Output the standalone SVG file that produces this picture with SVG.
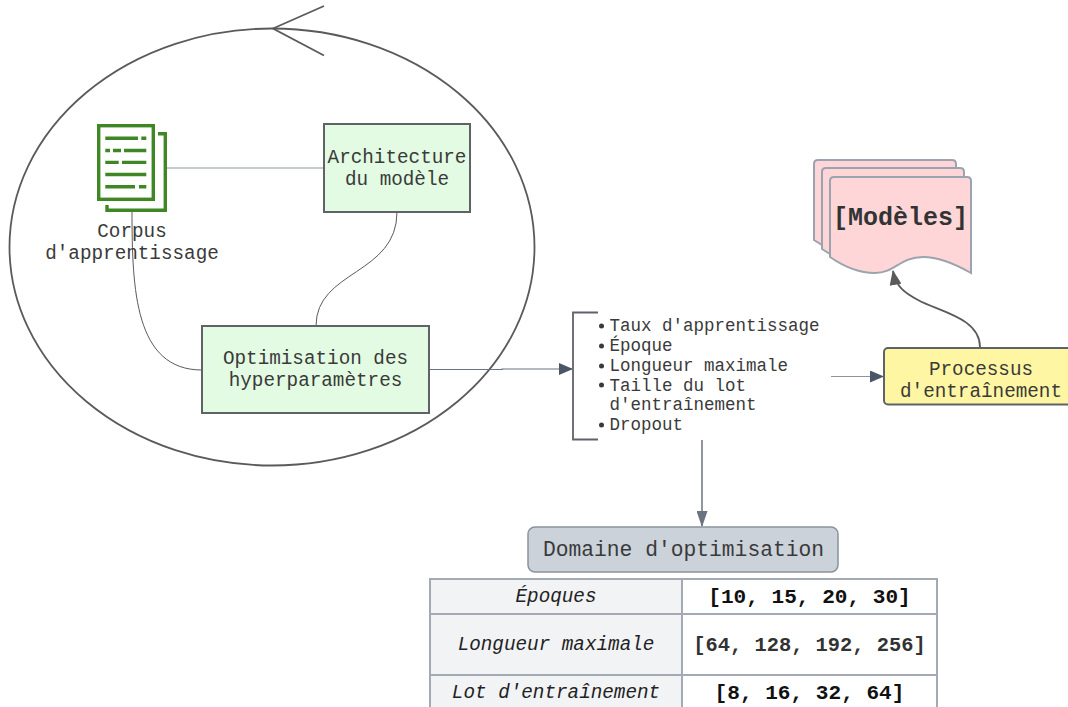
<svg xmlns="http://www.w3.org/2000/svg" width="1068" height="707" viewBox="0 0 1068 707">
<defs>
<style>
text{font-family:"Liberation Mono",monospace;fill:#3a3a3a;text-anchor:middle}
.c{fill:none;stroke:#8e939e;stroke-width:1.2}
.d{fill:none;stroke:#5a5a5a;stroke-width:1.8}
.t{font-size:19.300px}
.cell{fill:#fff;stroke:#a3aab5;stroke-width:2}
.h{fill:#f1f3f5;stroke:#a3aab5;stroke-width:2}
.i{font-style:italic;font-size:19.300px;fill:#222}
.b{font-weight:bold;font-size:21.100px;fill:#111}
.l{font-size:17.500px;text-anchor:start}
.g{fill:none;stroke:#3f8624;stroke-width:3.400}
.doc{fill:#ffd6d8;stroke:#9aa3ae;stroke-width:2}
</style>
<marker id="a" viewBox="0 0 14 12" refX="13" refY="6" markerWidth="14" markerHeight="12" markerUnits="userSpaceOnUse" orient="auto"><path d="M0 0L14 6L0 12Z" fill="#4a5568"/></marker>
<marker id="b" viewBox="0 0 15 12" refX="14" refY="6" markerWidth="15" markerHeight="12" markerUnits="userSpaceOnUse" orient="auto"><path d="M0 0L15 6L0 12Z" fill="#5a5a5a"/></marker>
<marker id="e" viewBox="0 0 16 11" refX="15" refY="5.500" markerWidth="16" markerHeight="11" markerUnits="userSpaceOnUse" orient="auto"><path d="M0 0L16 5.500L0 11Z" fill="#6b7280"/></marker>
</defs>
<rect width="1068" height="707" fill="#fff"/>
<g id="cycle">
<ellipse cx="272" cy="247" rx="262.500" ry="218.500" class="d"/>
<path d="M324 6L273 28.500L324 55.500" class="d"/>
</g>
<g id="connectors">
<path d="M167 168H324" class="c"/>
<path d="M397 212C397 275 316 270 316 326" class="c" style="stroke:#5a5a5a;stroke-width:1"/>
<path d="M132 211C132 290 135 370 202 370" class="c" style="stroke:#5a5a5a;stroke-width:1"/>
<path d="M430 369.500H502V369H572" class="c" style="stroke:#6b7280" marker-end="url(#a)"/>
<path d="M831 376.500H883" class="c" marker-end="url(#a)"/>
<path d="M980 347C980 318 940 312 918 300C905 293 896 287 893 271" class="d" marker-end="url(#b)"/>
<path d="M702 440V526" fill="none" stroke="#6b7280" stroke-width="1.500" marker-end="url(#e)"/>
</g>
<g id="corpus">
<rect x="98.700" y="125.700" width="54.600" height="73.600" fill="#fff" class="g"/>
<path d="M158 133.700H165.300V210.300H107V205" class="g"/>
<path d="M105.300 138.300H138M141.300 138.300H146.300M105.300 150.500H110M113 150.500H121M124 150.500H146.300M105.300 162.400H118.700M122 162.400H146.300M105.300 174.500H146.300M105.300 186.700H135M139 186.700H146.300" class="g"/>
<text x="132" y="236.500" class="t">Corpus</text>
<text x="132" y="258.500" class="t">d'apprentissage</text>
</g>
<g id="architecture">
<rect x="324" y="124" width="146" height="88" fill="#e2fbe2" stroke="#5f6368" stroke-width="2"/>
<text x="397" y="162.500" class="t">Architecture</text>
<text x="397" y="184.500" class="t">du modèle</text>
</g>
<g id="optimisation">
<rect x="202" y="326" width="227" height="87" fill="#e2fbe2" stroke="#5f6368" stroke-width="2"/>
<text x="315.500" y="363.500" class="t">Optimisation des</text>
<text x="315.500" y="385.500" class="t">hyperparamètres</text>
</g>
<g id="hyperparams">
<path d="M598 312.500H573V439.500H598" fill="none" stroke="#5f6368" stroke-width="1.800"/>
<g fill="#3a3a3a"><circle cx="601.500" cy="326" r="2.500"/><circle cx="601.500" cy="346" r="2.500"/><circle cx="601.500" cy="366" r="2.500"/><circle cx="601.500" cy="385" r="2.500"/><circle cx="601.500" cy="425" r="2.500"/></g>
<text x="609.500" y="331" class="l">Taux d'apprentissage</text>
<text x="609.500" y="351" class="l">Époque</text>
<text x="609.500" y="371" class="l">Longueur maximale</text>
<text x="609.500" y="391" class="l">Taille du lot</text>
<text x="609.500" y="410" class="l">d'entraînement</text>
<text x="609.500" y="430" class="l">Dropout</text>
</g>
<g id="modeles">
<path d="M814 240V164Q814 160 818 160H952Q956 160 956 164V200H822V245Z" class="doc"/>
<path d="M822 249V172Q822 168 826 168H960Q964 168 964 172V205H830V254Z" class="doc"/>
<path d="M830 257V181Q830 177 834 177H967Q971 177 971 181V273C950 261 935 257 923 257C900 257 895 273 875 273C857 273 843 266 830 257Z" class="doc"/>
<text x="900.500" y="225" font-size="25" font-weight="bold" style="fill:#333">[Modèles]</text>
</g>
<g id="processus">
<rect x="884" y="348" width="190" height="56.500" rx="4" fill="#fff6a3" stroke="#5f6368" stroke-width="2"/>
<text x="981" y="375" class="t">Processus</text>
<text x="981" y="397" class="t">d'entraînement</text>
</g>
<g id="domaine">
<rect x="528" y="527" width="310" height="45" rx="7" fill="#cbd2da" stroke="#8a929c" stroke-width="1.500"/>
<text x="683.500" y="556" font-size="21.300">Domaine d'optimisation</text>
</g>
<g id="table">
<rect x="430" y="579" width="252" height="35" class="h"/><rect x="682" y="579" width="255" height="35" class="cell"/>
<rect x="430" y="614" width="252" height="61" class="h"/><rect x="682" y="614" width="255" height="61" class="cell"/>
<rect x="430" y="675" width="252" height="40" class="h"/><rect x="682" y="675" width="255" height="40" class="cell"/>
<text x="556" y="602" class="i">Époques</text>
<text x="556" y="650" class="i">Longueur maximale</text>
<text x="556" y="698" class="i">Lot d'entraînement</text>
<text x="809.500" y="603" class="b">[10, 15, 20, 30]</text>
<text x="809.500" y="651" class="b" style="fill:#333;font-size:20.400px">[64, 128, 192, 256]</text>
<text x="809.500" y="699" class="b">[8, 16, 32, 64]</text>
</g>
</svg>
